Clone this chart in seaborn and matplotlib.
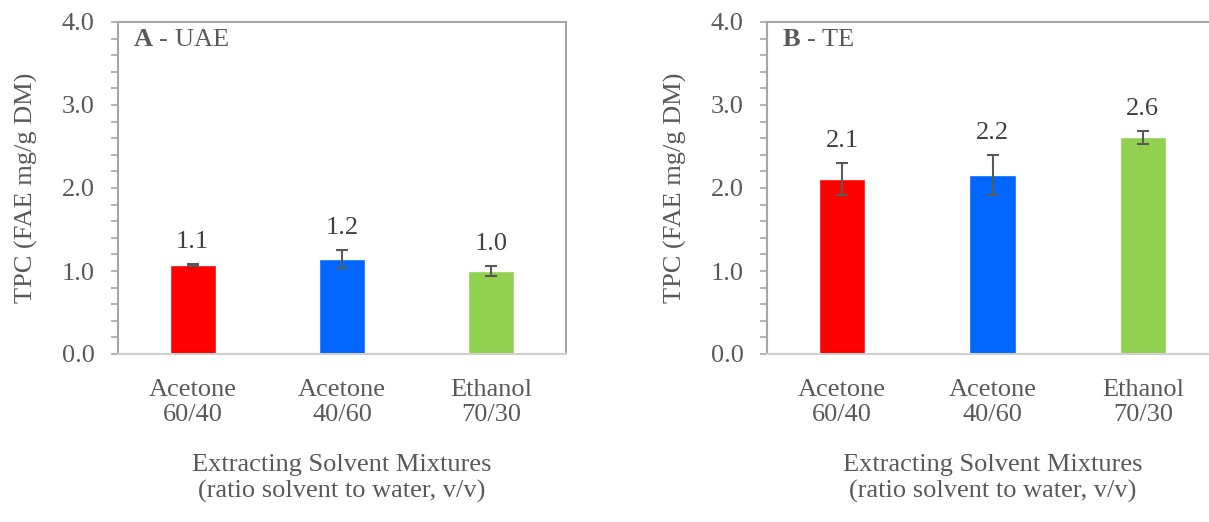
import matplotlib
matplotlib.use('Agg')
import matplotlib.pyplot as plt
import seaborn as sns
import pandas as pd
from matplotlib.ticker import MultipleLocator, FormatStrFormatter

# Data
solvents = ['Acetone\n60/40', 'Acetone\n40/60', 'Ethanol\n70/30']
uae_tpc = [1.07, 1.145, 1.00]
uae_err = [0.015, 0.105, 0.055]
uae_labels = ['1.1', '1.2', '1.0']
te_tpc = [2.11, 2.16, 2.61]
te_err = [0.19, 0.24, 0.08]
te_labels = ['2.1', '2.2', '2.6']
bar_colors = ['#FF0000', '#0066FF', '#92D050']

sns.set_style('white')
plt.rcParams['font.family'] = ['Liberation Serif', 'DejaVu Serif']
plt.rcParams['mathtext.fontset'] = 'custom'
plt.rcParams['mathtext.rm'] = 'Liberation Serif'
plt.rcParams['mathtext.bf'] = 'Liberation Serif:bold'

txt_color = '#595959'
fs = 19

fig = plt.figure(figsize=(12.09, 5.22), dpi=100)
ax_a = fig.add_axes([118 / 1209, 168 / 522, 448 / 1209, 332 / 522])
ax_b = fig.add_axes([767 / 1209, 168 / 522, 451 / 1209, 332 / 522])

panels = [
    (ax_a, uae_tpc, uae_err, uae_labels, r'$\mathbf{A}$ - UAE', 448),
    (ax_b, te_tpc, te_err, te_labels, r'$\mathbf{B}$ - TE', 451),
]

for ax, vals, errs, labs, title, w_px in panels:
    df = pd.DataFrame({'Solvent': solvents, 'TPC': vals})
    sns.barplot(data=df, x='Solvent', y='TPC', hue='Solvent', palette=bar_colors,
                width=0.31, legend=False, ax=ax, saturation=1)
    ax.errorbar(range(len(vals)), vals, yerr=errs, fmt='none', ecolor='#595959',
                elinewidth=1.5, capsize=4.5, capthick=1.5, zorder=5)
    for i, (v, e, lab) in enumerate(zip(vals, errs, labs)):
        ax.annotate(lab, (i, v + e), xytext=(0, 8), textcoords='offset points',
                    ha='center', va='bottom', fontsize=fs, color='#404040')

    ax.set_xlim(-0.5, 2.5)
    ax.set_ylim(0, 4.0)
    ax.yaxis.set_major_locator(MultipleLocator(1.0))
    ax.yaxis.set_minor_locator(MultipleLocator(0.2))
    ax.yaxis.set_major_formatter(FormatStrFormatter('%.1f'))
    ax.tick_params(axis='y', which='both', direction='out', length=5, width=1.2,
                   color='#A6A6A6', left=True, labelsize=fs, labelcolor=txt_color, pad=12)
    ax.tick_params(axis='x', length=0, labelsize=fs, labelcolor=txt_color, pad=18)

    for side in ['top', 'right', 'left']:
        ax.spines[side].set_color('#A6A6A6')
        ax.spines[side].set_linewidth(1.5)
    ax.spines['bottom'].set_color('#D0D0D0')
    ax.spines['bottom'].set_linewidth(1.5)

    ax.set_ylabel('TPC (FAE mg/g DM)', fontsize=fs, color=txt_color)
    ax.yaxis.set_label_coords(-80 / w_px, 0.5)
    ax.set_xlabel('Extracting Solvent Mixtures\n(ratio solvent to water, v/v)',
                  fontsize=fs, color=txt_color, labelpad=20)

    ax.annotate(title, (0, 1), xycoords='axes fraction', xytext=(11, -17),
                textcoords='offset points', ha='left', va='baseline',
                fontsize=fs, color=txt_color)

plt.savefig('out.png', dpi=100)
print('done')
